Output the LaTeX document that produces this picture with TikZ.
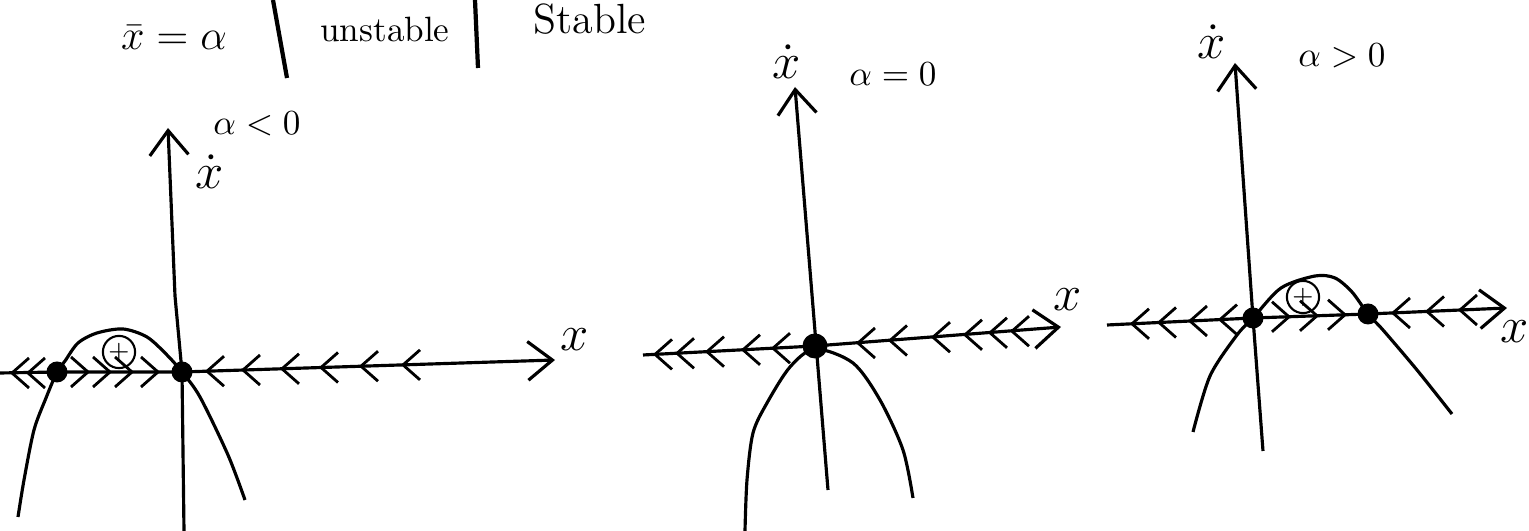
\documentclass[tikz,border=0pt]{standalone}
\usetikzlibrary{arrows.meta,calc}
\tikzset{
    axis/.style={line width=0.9pt, -{Straight Barb[length=7pt,width=11pt]}},
    branch/.style={line width=0.9pt},
    fixpt/.style={circle, fill, inner sep=0pt, minimum size=0.21cm},
    sign/.style={circle, draw, line width=0.6pt, inner sep=0.4pt,
                 minimum size=0.27cm, font=\scriptsize},
    note/.style={font=\normalsize},
    axlab/.style={font=\Large},
    divider/.style={line width=1.2pt},
    chev/.style={line width=0.8pt},
}
\newcommand{\leftchev}[1]{\draw[chev] (#1) ++(17,-15) -- (#1) -- ++(17,15);}
\newcommand{\rightchev}[1]{\draw[chev] (#1) ++(-17,-15) -- (#1) -- ++(-17,15);}

\begin{document}
\begin{tikzpicture}[x=0.01cm, y=-0.01cm]
    \useasboundingbox (0,0) rectangle (1529,531);

    % heading
    \node[note, font=\large] (fix) at (174,38) {$\bar{x}=\alpha$};
    \node[note] (unst) at (385,30) {unstable};
    \node[note, font=\large] (stab) at (590,19) {Stable};
    \draw[divider] (273,0) -- (287,78);
    \draw[divider] (475,0) -- (478,68);

    % alpha < 0
    \node[fixpt] (p1a) at (57,372) {};
    \node[fixpt] (p1b) at (182,372) {};
    \coordinate (p1l) at (0,373);
    \coordinate (p1r) at (555,360);
    \coordinate (p1bot) at (184,531);
    \coordinate (p1kink) at (175,296);
    \coordinate (p1top) at (168,128);
    \draw[axis] (p1l) -- (p1a.center) -- (p1b.center) -- (p1r);
    \draw[axis] (p1bot) -- (p1b.center) -- (p1kink) -- (p1top);
    \draw[branch] plot[smooth] coordinates {(18,517) (24,480) (34,430) (46,398)
        (p1a) (65,361) (78,343) (97,333) (123,329) (147,337) (167,355)
        (p1b) (200,397) (228,455) (245,500)};
    \node[sign] (p1sgn) at (119,352) {$+$};
    \node[axlab] (p1ylab) at (210,172) {$\dot{x}$};
    \node[note] (p1par) at (257,124) {$\alpha<0$};
    \node[axlab] (p1xlab) at (575,340) {$x$};
    \foreach \x in {12,28} {\leftchev{\x,373}}
    \foreach \x in {88,110,132,158} {\rightchev{\x,372}}
    \foreach \x/\y in {207/371.2,243/370,282/368.8,321/367.5,361/366.2,403/364.9}
        {\leftchev{\x,\y}}

    % alpha = 0
    \node[fixpt, minimum size=0.25cm] (p2a) at (815,346) {};
    \coordinate (p2l) at (643,355);
    \coordinate (p2r) at (1061,327);
    \coordinate (p2bot) at (828,490);
    \coordinate (p2top) at (795,87);
    \draw[axis] (p2l) -- (p2a.center) -- (p2r);
    \draw[axis] (p2bot) -- (p2top);
    \draw[branch] plot[smooth] coordinates {(745,531) (747,480) (753,433) (767,403)
        (790,367) (815,349) (853,363) (880,400) (903,450) (913,498)};
    \node[axlab] (p2ylab) at (787,62) {$\dot{x}$};
    \node[note] (p2par) at (893,74) {$\alpha=0$};
    \node[axlab] (p2xlab) at (1068,300) {$x$};
    \foreach \x/\y in {655/354.4,677/353.3,707/351.7,743/349.8,773/348.2}
        {\leftchev{\x,\y}}
    \foreach \x/\y in {858/343,890/340.5,933/337.2,965/334.8,990/332.8,1012/331.2}
        {\leftchev{\x,\y}}

    % alpha > 0
    \node[fixpt] (p3a) at (1253,318) {};
    \node[fixpt] (p3b) at (1368,314) {};
    \coordinate (p3l) at (1107,325);
    \coordinate (p3r) at (1507,308);
    \coordinate (p3bot) at (1263,451);
    \coordinate (p3top) at (1235,63);
    \draw[axis] (p3l) -- (p3a.center) -- (p3b.center) -- (p3r);
    \draw[axis] (p3bot) -- (p3a.center) -- (p3top);
    \draw[branch] plot[smooth] coordinates {(1193,432) (1210,376) (1237,335)
        (p3a) (1281,288) (1315,276) (1335,278) (1352,292)
        (p3b) (1383,330) (1417,370) (1452,414)};
    \node[sign] (p3sgn) at (1303,297) {$+$};
    \node[axlab] (p3ylab) at (1212,42) {$\dot{x}$};
    \node[note] (p3par) at (1342,56) {$\alpha>0$};
    \node[axlab] (p3xlab) at (1515,332) {$x$};
    \foreach \x/\y in {1132/323.8,1159/322.5,1190/321,1220/319.6} {\leftchev{\x,\y}}
    \foreach \x/\y in {1289/316.8,1317/315.8,1345/314.8} {\rightchev{\x,\y}}
    \foreach \x/\y in {1393/313,1427/311.5,1460/310} {\leftchev{\x,\y}}
\end{tikzpicture}
\end{document}
